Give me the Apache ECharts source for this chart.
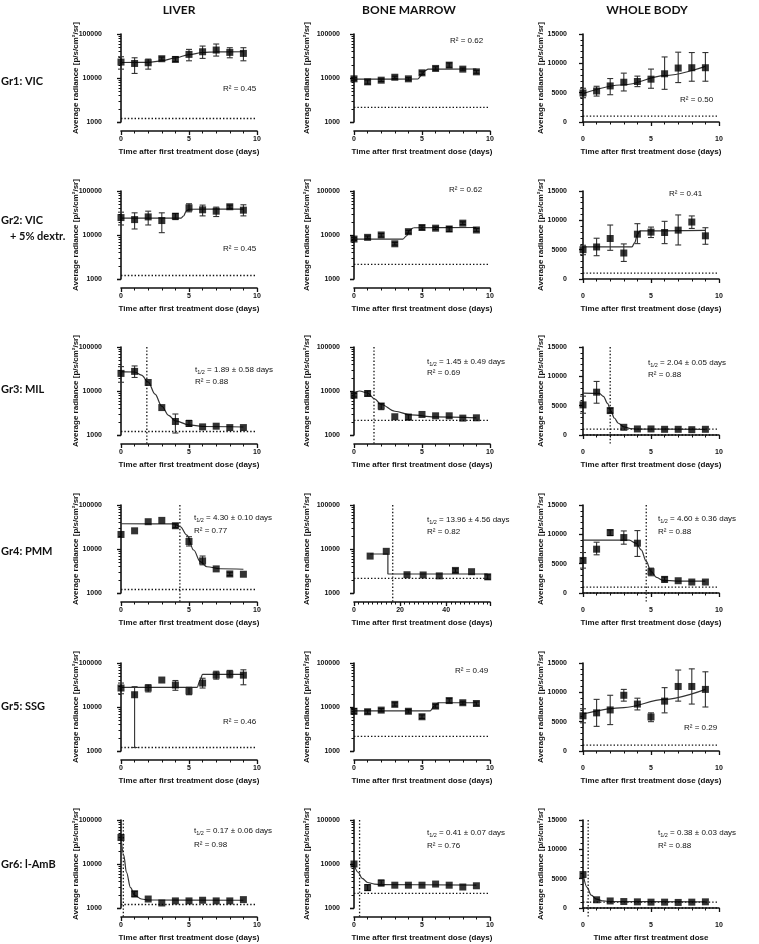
<!DOCTYPE html>
<html><head><meta charset="utf-8">
<script src="https://cdn.jsdelivr.net/npm/echarts@6/dist/echarts.min.js"></script>
<style>html,body{margin:0;padding:0;background:#fff}#c{width:759px;height:944px}</style>
</head><body><div id="c"></div>
<script>
// ---------------- DATA ----------------
const days = [0, 1, 2, 3, 4, 5, 6, 7, 8, 9];
const daysGr4BM = [7, 14, 23, 30, 37, 44, 51, 58];

const liverLOD = 1200, bmLOD = 2150, wbLOD = 1000;

// Gr1: VIC
const gr1LiverMean = [23000, 21400, 22200, 27400, 26400, 34400, 39500, 43200, 38200, 36200];
const gr1LiverLo   = [15900, 12700, 15900, 25500, 23800, 24600, 27900, 31500, 28800, 24600];
const gr1LiverHi   = [30400, 28800, 26900, 29900, 30400, 44700, 53200, 59200, 48800, 48800];
const gr1LiverFitX = [0, 2, 3, 4, 5, 6, 7, 9];
const gr1LiverFitY = [22500, 22700, 24500, 28500, 34000, 38000, 39300, 39500];

const gr1BMMean = [9570, 8180, 8920, 10400, 9570, 13100, 16500, 19600, 15900, 13800];
const gr1BMLo   = [8900, 7300, 8300, 9700, 8900, 12000, 15000, 17500, 15000, 12800];
const gr1BMHi   = [10200, 9000, 9500, 11000, 10200, 14300, 18000, 22000, 16800, 14900];
const gr1BMFitX = [0, 4.7, 4.95, 5.2, 5.45, 9];
const gr1BMFitY = [9400, 9500, 11500, 14500, 15900, 16000];

const gr1WBMean = [4950, 5290, 6150, 6780, 6900, 7300, 8220, 9200, 9250, 9250];
const gr1WBLo   = [4140, 4420, 4650, 5290, 6030, 5750, 5570, 6720, 6950, 6950];
const gr1WBHi   = [5750, 6090, 7410, 8330, 7820, 9020, 11090, 11900, 11840, 11840];
const gr1WBFitX = [0, 3, 6, 9];
const gr1WBFitY = [4830, 6350, 7900, 9480];

// Gr2: VIC + 5% dextr.
const gr2LiverMean = [24900, 22400, 25800, 21300, 26700, 41500, 37400, 34800, 43800, 36700];
const gr2LiverLo   = [16900, 13700, 16900, 11300, 22400, 33600, 27200, 26300, 40000, 27200];
const gr2LiverHi   = [33000, 31900, 34800, 31900, 30800, 51300, 47800, 43000, 47800, 48600];
const gr2LiverFitX = [0, 4.4, 4.6, 4.8, 5.0, 9];
const gr2LiverFitY = [24100, 24100, 27000, 35000, 38500, 38700];

const gr2BMMean = [8090, 8840, 10000, 6310, 11900, 14800, 14300, 13700, 18600, 13000];
const gr2BMLo   = [7500, 8200, 9000, 5900, 11000, 13200, 13300, 12000, 17300, 12100];
const gr2BMHi   = [8700, 9500, 10800, 6800, 12800, 16300, 15300, 15500, 19900, 14000];
const gr2BMFitX = [0, 3.6, 3.85, 4.1, 4.4, 9];
const gr2BMFitY = [8090, 8100, 9500, 13000, 14600, 14800];

const gr2WBMean = [5000, 5460, 6900, 4430, 7640, 7990, 7930, 8330, 9710, 7360];
const gr2WBLo   = [4140, 3970, 4890, 2990, 6030, 7070, 6030, 5800, 8620, 5920];
const gr2WBHi   = [5750, 6950, 9200, 5980, 9430, 8850, 9830, 10920, 10750, 8740];
const gr2WBFitX = [0, 3.6, 3.8, 4.0, 4.2, 9];
const gr2WBFitY = [5460, 5460, 6200, 7600, 8200, 8280];

// Gr3: MIL
const gr3LiverMean = [25100, 27900, 15600, 4200, 2030, 1830, 1530, 1585, 1475, 1475];
const gr3LiverLo   = [15800, 20300, null, null, 1110, 1580, null, null, null, null];
const gr3LiverHi   = [35800, 37100, null, null, 3000, 2150, null, null, null, null];
const gr3LiverFitX = [0, 1, 1.5, 2, 2.5, 3, 3.5, 4, 5, 6, 9];
const gr3LiverFitY = [27500, 27000, 23000, 16000, 8500, 4500, 2800, 2100, 1700, 1560, 1520];

const gr3BMMean = [8020, 8770, 4560, 2600, 2550, 2930, 2730, 2730, 2420, 2460];
const gr3BMLo   = [7300, 7680, 3770, null, 2220, null, null, null, null, null];
const gr3BMHi   = [8800, 10000, 5160, null, 2930, null, null, null, null, null];
const gr3BMFitX = [0, 0.4, 1, 1.5, 2, 3, 4.2, 5.9, 9];
const gr3BMFitY = [9160, 10000, 9000, 6660, 4940, 3470, 2860, 2570, 2460];

const gr3WBMean = [5130, 7300, 4160, 1310, 1030, 1030, 970, 970, 910, 970];
const gr3WBLo   = [3710, 5420, 3760, null, null, null, null, null, null, null];
const gr3WBHi   = [6620, 9130, 4560, null, null, null, null, null, null, null];
const gr3WBFitX = [0, 1.2, 1.5, 1.8, 2.05, 2.3, 2.6, 3, 3.5, 4, 9];
const gr3WBFitY = [7130, 7100, 6600, 5400, 4100, 2900, 2000, 1400, 1100, 1000, 970];

// Gr4: PMM
const gr4LiverMean = [21400, 25900, 41700, 44700, 33800, 14800, 5370, 3530, 2710, 2670];
const gr4LiverLo   = [null, null, null, null, 30500, 11700, 4370, null, 2480, null];
const gr4LiverHi   = [null, null, null, null, 37500, 19000, 6920, null, 2960, null];
const gr4LiverFitX = [0, 3.9, 4.36, 4.85, 5.34, 5.83, 6.32, 7.3, 9];
const gr4LiverFitY = [37500, 37400, 32000, 20700, 9480, 5140, 3950, 3560, 3470];

const gr4BMMean = [6900, 8850, 2600, 2570, 2450, 3260, 3050, 2330];
const gr4BMLo   = [null, null, null, null, null, 2950, null, 2050];
const gr4BMHi   = [null, null, null, null, null, 3550, null, 2600];
const gr4BMFitX = [7, 14.7, 14.7, 58];
const gr4BMFitY = [7700, 7700, 2700, 2700];

const gr4WBMean = [5550, 7470, 10300, 9450, 8490, 3620, 2320, 2090, 1870, 1870];
const gr4WBLo   = [4240, 6510, 9790, 8320, 6230, 2940, 1870, null, null, null];
const gr4WBHi   = [6900, 8660, 10750, 10580, 10640, 4240, 2720, null, null, null];
const gr4WBFitX = [0, 3.4, 3.9, 4.28, 4.65, 5.0, 5.4, 5.9, 6.9, 9];
const gr4WBFitY = [9000, 9000, 8490, 7360, 5380, 3680, 2660, 2150, 2040, 2040];

// Gr5: SSG
const gr5LiverMean = [27000, 19000, 27000, 41000, 31600, 23000, 35000, 53000, 56000, 53000];
const gr5LiverLo   = [20000, 1200, 22000, null, 24000, 19000, 27000, 43000, 46000, 32000];
const gr5LiverHi   = [35000, 29000, 32000, null, 40000, 28000, 45000, 65000, 68000, 70000];
const gr5LiverFitX = [0, 5.6, 5.8, 6.0, 9];
const gr5LiverFitY = [28000, 28000, 40000, 55000, 55000];

const gr5BMMean = [8000, 7800, 8500, 11500, 8000, 6000, 10500, 14000, 12500, 12000];
const gr5BMLo   = [7000, 7000, 7800, 10500, 7300, 5500, 9500, 12500, 11500, 11000];
const gr5BMHi   = [9200, 8600, 9200, 12500, 8800, 6600, 11500, 15500, 13500, 13000];
const gr5BMFitX = [0, 5.6, 5.9, 6.2, 9];
const gr5BMFitY = [8200, 8200, 10500, 12500, 12500];

const gr5WBMean = [6000, 6500, 7000, 9500, 8000, 5800, 8500, 11000, 11000, 10500];
const gr5WBLo   = [4800, 4200, 4500, 8500, 7000, 5000, 6500, 8500, 8000, 7500];
const gr5WBHi   = [7200, 8800, 9500, 10500, 9000, 6500, 10800, 13800, 14000, 13500];
const gr5WBFitX = [0, 3, 6, 9];
const gr5WBFitY = [6300, 7400, 8800, 10500];

// Gr6: l-AmB
const gr6LiverMean = [40000, 2100, 1600, 1300, 1450, 1450, 1500, 1450, 1450, 1550];
const gr6LiverLo   = [null, 1800, null, null, null, null, null, null, null, null];
const gr6LiverHi   = [null, 2400, null, null, null, null, null, null, null, null];
const gr6LiverFitX = [0, 0.2, 0.4, 0.7, 1, 1.5, 2, 9];
const gr6LiverFitY = [40000, 16000, 6500, 2900, 1950, 1600, 1520, 1500];

const gr6BMMean = [10000, 2900, 3700, 3300, 3300, 3300, 3500, 3300, 3000, 3200];
const gr6BMLo   = [null, 2500, 3200, null, null, null, null, null, null, null];
const gr6BMHi   = [null, 3400, 4300, null, null, null, null, null, null, null];
const gr6BMFitX = [0, 0.3, 0.6, 1, 1.5, 2, 9];
const gr6BMFitY = [9800, 6500, 4700, 3800, 3500, 3400, 3300];

const gr6WBMean = [5700, 1400, 1200, 1100, 1050, 1000, 1000, 950, 1000, 1050];
const gr6WBFitX = [0, 0.3, 0.6, 1, 1.5, 2, 9];
const gr6WBFitY = [5800, 3500, 2200, 1500, 1200, 1100, 1050];

// labels
const colTitles = ['LIVER', 'BONE MARROW', 'WHOLE BODY'];
const rowLabels = [['Gr1: VIC'], ['Gr2: VIC', '+ 5% dextr.'], ['Gr3: MIL'], ['Gr4: PMM'], ['Gr5: SSG'], ['Gr6: l-AmB']];
const yTitle = 'Average radiance [p/s/cm²/sr]';
const xTitle = 'Time after first treatment dose (days)';
const xTitleShort = 'Time after first treatment dose';
const r2Text = ['0.45','0.62','0.50','0.45','0.62','0.41','0.88','0.69','0.88','0.77','0.82','0.88','0.46','0.49','0.29','0.98','0.76','0.88'];
const halfLifeText = {6:'1.89 ± 0.58', 7:'1.45 ± 0.49', 8:'2.04 ± 0.05', 9:'4.30 ± 0.10', 10:'13.96 ± 4.56', 11:'4.60 ± 0.36', 15:'0.17 ± 0.06', 16:'0.41 ± 0.07', 17:'0.38 ± 0.03'};

// ---------------- PANELS ----------------
const P = (row, col, x, mean, lo, hi, fx, fy, h, v, extra) => Object.assign({row, col, x, mean, lo, hi, fx, fy, h, v}, extra || {});
const panels = [
  P(0,0,days,gr1LiverMean,gr1LiverLo,gr1LiverHi,gr1LiverFitX,gr1LiverFitY,[liverLOD],null),
  P(0,1,days,gr1BMMean,gr1BMLo,gr1BMHi,gr1BMFitX,gr1BMFitY,[bmLOD],null),
  P(0,2,days,gr1WBMean,gr1WBLo,gr1WBHi,gr1WBFitX,gr1WBFitY,[wbLOD],null),
  P(1,0,days,gr2LiverMean,gr2LiverLo,gr2LiverHi,gr2LiverFitX,gr2LiverFitY,[liverLOD],null),
  P(1,1,days,gr2BMMean,gr2BMLo,gr2BMHi,gr2BMFitX,gr2BMFitY,[bmLOD],null),
  P(1,2,days,gr2WBMean,gr2WBLo,gr2WBHi,gr2WBFitX,gr2WBFitY,[wbLOD],null),
  P(2,0,days,gr3LiverMean,gr3LiverLo,gr3LiverHi,gr3LiverFitX,gr3LiverFitY,[liverLOD],1.9),
  P(2,1,days,gr3BMMean,gr3BMLo,gr3BMHi,gr3BMFitX,gr3BMFitY,[bmLOD],1.47),
  P(2,2,days,gr3WBMean,gr3WBLo,gr3WBHi,gr3WBFitX,gr3WBFitY,[wbLOD,0],2.0),
  P(3,0,days,gr4LiverMean,gr4LiverLo,gr4LiverHi,gr4LiverFitX,gr4LiverFitY,[liverLOD],4.33),
  P(3,1,daysGr4BM,gr4BMMean,gr4BMLo,gr4BMHi,gr4BMFitX,gr4BMFitY,[bmLOD],16.8,{xMax:59,xInt:20,xMinor:10,noSmooth:true}),
  P(3,2,days,gr4WBMean,gr4WBLo,gr4WBHi,gr4WBFitX,gr4WBFitY,[wbLOD,0],4.65),
  P(4,0,days,gr5LiverMean,gr5LiverLo,gr5LiverHi,gr5LiverFitX,gr5LiverFitY,[liverLOD],null),
  P(4,1,days,gr5BMMean,gr5BMLo,gr5BMHi,gr5BMFitX,gr5BMFitY,[bmLOD],null),
  P(4,2,days,gr5WBMean,gr5WBLo,gr5WBHi,gr5WBFitX,gr5WBFitY,[wbLOD],null),
  P(5,0,days,gr6LiverMean,gr6LiverLo,gr6LiverHi,gr6LiverFitX,gr6LiverFitY,[liverLOD],0.17),
  P(5,1,days,gr6BMMean,gr6BMLo,gr6BMHi,gr6BMFitX,gr6BMFitY,[bmLOD],0.41),
  P(5,2,days,gr6WBMean,null,null,gr6WBFitX,gr6WBFitY,[wbLOD,0],0.38,{xName:xTitleShort})
];

// ---------------- LAYOUT ----------------
const FN = "'Liberation Sans',Arial,sans-serif";
const FT = "Lato,'Open Sans',sans-serif";
const INK = '#111';
const colLeft = [121, 354, 583];
const colAxisOffset = [15, 10, 12];
const colNameGap = [26, 33, 26];
const rowTop = [34, 191, 347, 505, 663, 820];
const GW = 136, GH = 88;
const r2Pos = [[223,89],[450,41],[680,100],[223,249],[449,190],[669,194],[195,382],[427,373],[648,375],
  [194,531],[427,532],[658,532],[223,722],[455,671],[684,728],[194,845],[427,846],[658,846]];
const tPos = {6:[195,370],7:[427,362],8:[648,363],9:[194,518],10:[427,520],11:[658,519],15:[194,831],16:[427,833],17:[658,833]};

const grid = [], xAxis = [], yAxis = [], series = [];
const dotted = {stroke: INK, lineWidth: 1.3, lineDash: [1.4, 2]};

panels.forEach((p, i) => {
  const isLog = p.col < 2;
  grid.push({left: colLeft[p.col], top: rowTop[p.row], width: GW, height: GH});
  xAxis.push({
    gridIndex: i, type: 'value', min: 0, max: p.xMax || 10, interval: p.xInt || 5, offset: 9,
    axisLine: {lineStyle: {color: INK, width: 1.6}},
    axisTick: {length: 4, lineStyle: {color: INK, width: 1.3}},
    minorTick: {show: true, splitNumber: p.xMinor || 5, length: 2.5, lineStyle: {color: INK, width: 1}},
    splitLine: {show: false},
    axisLabel: {fontFamily: FN, fontWeight: 'bold', fontSize: 7, color: INK, margin: 5, showMaxLabel: !p.xMax,
      formatter: v => String(Math.round(v))},
    name: p.xName || xTitle, nameLocation: 'middle', nameGap: 17, nameMoveOverlap: false,
    nameTextStyle: {fontFamily: FN, fontWeight: 'bold', fontSize: 8, color: INK}
  });
  const y = {
    gridIndex: i, offset: colAxisOffset[p.col],
    axisLine: {show: true, lineStyle: {color: INK, width: 1.6}},
    axisTick: {show: true, length: 4, lineStyle: {color: INK, width: 1.3}},
    minorTick: {show: true, length: 2.5, lineStyle: {color: INK, width: 1}},
    splitLine: {show: false},
    axisLabel: {fontFamily: FN, fontWeight: 'bold', fontSize: 7, color: INK, margin: 4, formatter: v => String(Math.round(v))},
    name: yTitle, nameLocation: 'middle', nameGap: colNameGap[p.col], nameRotate: 90, nameMoveOverlap: false,
    nameTextStyle: {fontFamily: FN, fontWeight: 'bold', fontSize: 8, color: INK}
  };
  if (isLog) { Object.assign(y, {type: 'log', logBase: 10, min: 1000, max: 100000}); y.minorTick.splitNumber = 9; }
  else { Object.assign(y, {type: 'value', min: 0, max: 15000, interval: 5000}); y.minorTick.splitNumber = 5; }
  yAxis.push(y);

  // reference dotted lines
  series.push({
    type: 'custom', xAxisIndex: i, yAxisIndex: i, silent: true, z: 1,
    data: p.h.map(v => [0, v]),
    renderItem: (params, api) => {
      const cs = params.coordSys;
      const yy = api.coord([0, api.value(1)])[1];
      return {type: 'line', shape: {x1: cs.x, y1: yy, x2: cs.x + cs.width, y2: yy}, style: dotted};
    }
  });
  if (p.v != null) {
    series.push({
      type: 'custom', xAxisIndex: i, yAxisIndex: i, silent: true, z: 1,
      data: [[p.v, isLog ? 1000 : 0]],
      renderItem: (params, api) => {
        const cs = params.coordSys;
        const xx = api.coord([api.value(0), api.value(1)])[0];
        return {type: 'line', shape: {x1: xx, y1: cs.y, x2: xx, y2: cs.y + cs.height + 9}, style: dotted};
      }
    });
  }
  // fit curve
  series.push({
    type: 'line', xAxisIndex: i, yAxisIndex: i, silent: true, z: 3,
    data: p.fx.map((x, j) => [x, p.fy[j]]), showSymbol: false, symbol: 'none',
    smooth: p.noSmooth ? false : 0.35, smoothMonotone: 'x',
    lineStyle: {color: '#333', width: 1.2}
  });
  // error bars
  if (p.lo) {
    const ed = [];
    p.x.forEach((x, j) => { if (p.lo[j] != null) ed.push([x, p.lo[j], p.hi[j]]); });
    series.push({
      type: 'custom', xAxisIndex: i, yAxisIndex: i, silent: true, z: 4,
      data: ed, encode: {x: 0, y: [1, 2]},
      renderItem: (params, api) => {
        const a = api.coord([api.value(0), api.value(1)]);
        const b = api.coord([api.value(0), api.value(2)]);
        const w = 3, st = {stroke: '#333', lineWidth: 1.1};
        return {type: 'group', children: [
          {type: 'line', shape: {x1: a[0], y1: a[1], x2: b[0], y2: b[1]}, style: st},
          {type: 'line', shape: {x1: a[0] - w, y1: a[1], x2: a[0] + w, y2: a[1]}, style: st},
          {type: 'line', shape: {x1: b[0] - w, y1: b[1], x2: b[0] + w, y2: b[1]}, style: st}
        ]};
      }
    });
  }
  // means
  series.push({
    type: 'scatter', xAxisIndex: i, yAxisIndex: i, silent: true, z: 5,
    data: p.x.map((x, j) => [x, p.mean[j]]), symbol: 'rect', symbolSize: 7,
    itemStyle: {color: '#000'}
  });
});

// ---------------- TEXT ----------------
const graphic = [];
const titleX = [179, 409, 647];
colTitles.forEach((t, c) => graphic.push({type: 'text', x: titleX[c], y: 10,
  style: {text: t, font: 'bold 12px ' + FT, fill: INK, textAlign: 'center', textVerticalAlign: 'middle'}}));
const rowY = [81, 220, 389, 551, 706, 864];
rowLabels.forEach((lines, r) => lines.forEach((t, k) => graphic.push({type: 'text', x: k ? 10 : 1, y: rowY[r] + k * 16,
  style: {text: t, font: 'bold 11px ' + FT, fill: INK, textVerticalAlign: 'middle'}})));
r2Text.forEach((t, i) => graphic.push({type: 'text', x: r2Pos[i][0], y: r2Pos[i][1],
  style: {text: 'R² = ' + t, font: '8px ' + FN, fill: INK, textVerticalAlign: 'middle'}}));
Object.keys(halfLifeText).forEach(k => graphic.push({type: 'text', x: tPos[k][0], y: tPos[k][1],
  style: {text: '{a|t}{s|1/2}{a| = ' + halfLifeText[k] + ' days}', fill: INK, textVerticalAlign: 'middle',
    rich: {a: {fontFamily: FN, fontSize: 8, fill: INK}, s: {fontFamily: FN, fontSize: 5.5, fill: INK, padding: [4, 0, 0, 0]}}}}));

const chart = echarts.init(document.getElementById('c'), null, {renderer: 'canvas'});
chart.setOption({animation: false, backgroundColor: '#fff', grid, xAxis, yAxis, series, graphic});
</script></body></html>
